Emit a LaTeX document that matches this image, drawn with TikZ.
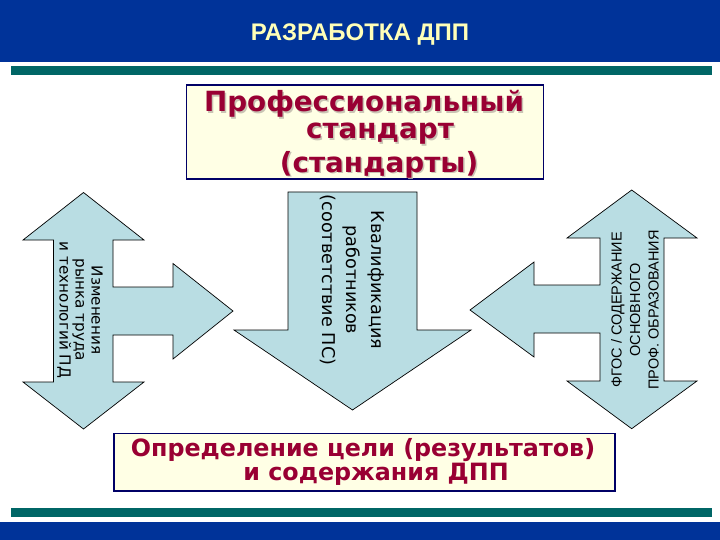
\documentclass[tikz,border=0pt]{standalone}
\usepackage{fontspec}
\setmainfont{Liberation Sans}
\newfontfamily\dvs{DejaVu Sans}
\definecolor{bandblue}{HTML}{003399}
\definecolor{stripe}{HTML}{006666}
\definecolor{boxfill}{HTML}{FFFFE5}
\definecolor{boxline}{HTML}{000066}
\definecolor{wine}{HTML}{990033}
\definecolor{arrowfill}{HTML}{B9DDE3}
\definecolor{titlecol}{HTML}{FFFFB8}
\definecolor{shadowcol}{HTML}{C9C4B4}
\newcommand{\fsz}[2]{\fontsize{#1}{#2}\selectfont}
\tikzset{
  band/.style={fill=bandblue,draw=none},
  stripebar/.style={fill=stripe,draw=none},
  cardbox/.style={draw=boxline,line width=1.6pt,fill=boxfill,inner sep=0pt,anchor=north west},
  blockarrow/.style={draw=black,line width=0.7pt,fill=arrowfill,line join=miter},
  headline/.style={font=\dvs\bfseries\fsz{27.8}{28},align=center,text=wine,inner sep=0pt},
  headshadow/.style={headline,text=shadowcol},
  subline/.style={font=\dvs\bfseries\fsz{23.8}{24},align=center,text=wine,inner sep=0pt},
  sidetext/.style={font=\dvs,align=center,text=black,inner sep=0pt},
}
\begin{document}
\begin{tikzpicture}[x=1pt,y=-1pt]
\useasboundingbox (0,0) rectangle (720,540);
\fill[white] (0,0) rectangle (720,540);
\path[band] (0,0) rectangle (720,62);
\path[band] (0,522) rectangle (720,540);
\path[stripebar] (11,66) rectangle (712,75);
\path[stripebar] (11,508) rectangle (712,517);
\node[font=\bfseries\fsz{24}{24},text=titlecol,inner sep=0pt] (title) at (360,35) {РАЗРАБОТКА ДПП};
% top box
\node[cardbox,minimum width=357pt,minimum height=94pt] (topbox) at (185.5,84.5) {};
\node[headshadow] (tops1) at (365.5,105.5) {Профессиональный};
\node[headshadow] (tops2) at (381.5,135.5) {стандарт};
\node[headshadow] (tops3) at (380.5,166) {(стандарты)};
\node[headline] (top1) at (364,104) {Профессиональный};
\node[headline] (top2) at (380,134) {стандарт};
\node[headline] (top3) at (379,164.5) {(стандарты)};
% bottom box
\node[cardbox,minimum width=501pt,minimum height=57.5pt] (botbox) at (113,432.5) {};
\node[subline] (bot1) at (363,450) {Определение цели (результатов)};
\node[subline] (bot2) at (376,474) {и содержания ДПП};
% arrows
\draw[blockarrow] (83.5,192.5) -- (144,240) -- (113,240) -- (113,287) -- (173,287) -- (173,263.5) -- (233,311) -- (173,359) -- (173,335) -- (113,335) -- (113,382) -- (144,382) -- (83.5,429) -- (23,382) -- (53.5,382) -- (53.5,240) -- (23,240) -- cycle;
\draw[blockarrow] (288,192) -- (417,192) -- (417,330) -- (471,330) -- (352.5,410) -- (234,330) -- (288,330) -- cycle;
\draw[blockarrow] (631.7,190) -- (697,238) -- (664,238) -- (664,381) -- (697,381) -- (631.7,428.7) -- (567,381) -- (600,381) -- (600,333) -- (534,333) -- (534,357) -- (470,310) -- (534,262) -- (534,285) -- (600,285) -- (600,238) -- (567,238) -- cycle;
% arrow texts
\node[sidetext,rotate=-90,font=\dvs\fsz{15.2}{16}] (lefttxt) at (80,310) {Изменения\\рынка труда\\и технологий ПД};
\node[sidetext,rotate=-90,font=\dvs\fsz{17.6}{24.5}] (midtxt) at (352,280) {Квалификация\\работников\\(соответствие ПС)};
\node[sidetext,rotate=90,font=\fsz{14.5}{18.5}] (righttxt) at (635,310) {ФГОС / СОДЕРЖАНИЕ\\ОСНОВНОГО\\ПРОФ. ОБРАЗОВАНИЯ};
\end{tikzpicture}
\end{document}
